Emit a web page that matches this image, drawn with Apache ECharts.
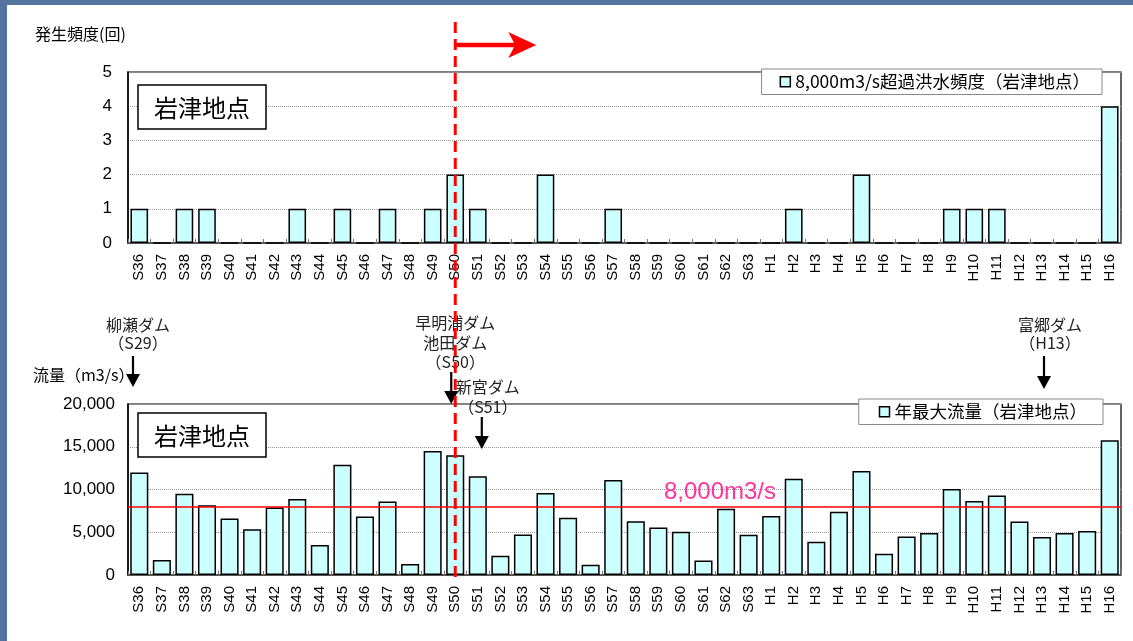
<!DOCTYPE html>
<html>
<head>
<meta charset="utf-8">
<script src="https://cdn.jsdelivr.net/npm/echarts@6/dist/echarts.min.js"></script>
<style>
  body { margin: 0; background: #52749e; }
  #panel { position: absolute; left: 7px; top: 5px; width: 1126px; height: 636px; background: #fff; }
  #main { position: absolute; left: 0; top: 0; width: 1133px; height: 641px; }
</style>
</head>
<body>
<div id="panel"></div>
<div id="main"></div>
<script>
// 年 (昭和 S36 ～ 平成 H16)
const years = ['S36', 'S37', 'S38', 'S39', 'S40', 'S41', 'S42', 'S43', 'S44', 'S45',
  'S46', 'S47', 'S48', 'S49', 'S50', 'S51', 'S52', 'S53', 'S54', 'S55',
  'S56', 'S57', 'S58', 'S59', 'S60', 'S61', 'S62', 'S63',
  'H1', 'H2', 'H3', 'H4', 'H5', 'H6', 'H7', 'H8', 'H9', 'H10',
  'H11', 'H12', 'H13', 'H14', 'H15', 'H16'];

// 8,000m3/s超過洪水頻度 (回)
const exceedCount = [1, 0, 1, 1, 0, 0, 0, 1, 0, 1,
  0, 1, 0, 1, 2, 1, 0, 0, 2, 0,
  0, 1, 0, 0, 0, 0, 0, 0,
  0, 1, 0, 0, 2, 0, 0, 0, 1, 1,
  1, 0, 0, 0, 0, 4];

// 年最大流量 (m3/s)
const peakFlow = [12000, 1750, 9500, 8150, 6600, 5350, 7900, 8900, 3500, 12900,
  6850, 8600, 1300, 14500, 14000, 11550, 2250, 4750, 9600, 6700,
  1200, 11100, 6300, 5550, 5050, 1700, 7750, 4700,
  6900, 11250, 3900, 7400, 12150, 2500, 4500, 4900, 10050, 8650,
  9300, 6250, 4450, 4900, 5150, 15750];

const countTicks = [0, 1, 2, 3, 4, 5];
const flowTicks = [0, 5000, 10000, 15000, 20000];
const threshold = 8000;

// ダム (年, 名前)
const dams = [
  { year: 'S29', lines: ['柳瀬ダム', '（S29）'] },
  { year: 'S50', lines: ['早明浦ダム', '池田ダム', '（S50）'] },
  { year: 'S51', lines: ['新宮ダム', '（S51）'] },
  { year: 'H13', lines: ['富郷ダム', '（H13）'] }
];

const FONT = "'Liberation Sans', 'Noto Sans CJK JP', sans-serif";
const JFONT = "'Noto Sans CJK JP', sans-serif";

const chart = echarts.init(document.getElementById('main'), null, { renderer: 'canvas' });

function xAxisFor(gridIndex) {
  return {
    type: 'category',
    gridIndex: gridIndex,
    data: years,
    axisLine: { lineStyle: { color: '#444', width: 1.5 } },
    axisTick: { show: true, inside: true, length: 4, interval: 0, lineStyle: { color: '#777' } },
    axisLabel: { interval: 0, rotate: 90, fontSize: 15, color: '#000', margin: 11, fontFamily: FONT }
  };
}

function yAxisFor(gridIndex, ticks, fmt, margin) {
  return {
    type: 'value',
    gridIndex: gridIndex,
    min: ticks[0],
    max: ticks[ticks.length - 1],
    interval: ticks[1] - ticks[0],
    axisLine: { show: true, lineStyle: { color: '#000', width: 1.5 } },
    axisTick: { show: false },
    axisLabel: { fontSize: 17, color: '#000', margin: margin, fontFamily: FONT, formatter: fmt },
    splitLine: { lineStyle: { color: '#999', type: 'dotted' } }
  };
}

const barStyle = { color: '#ccffff', borderColor: '#000', borderWidth: 1.5 };

const option = {
  animation: false,
  grid: [
    { left: 128, top: 72, right: 12, height: 171, show: true, borderColor: '#000', borderWidth: 1.2, backgroundColor: 'transparent' },
    { left: 128, top: 404, right: 12, height: 171, show: true, borderColor: '#000', borderWidth: 1.2, backgroundColor: 'transparent' }
  ],
  legend: [
    {
      data: ['8,000m3/s超過洪水頻度（岩津地点）'],
      right: 31, top: 69,
      padding: [4, 12, 4, 18],
      backgroundColor: '#fff', borderColor: '#888', borderWidth: 1,
      icon: 'rect', itemWidth: 10, itemHeight: 10, itemGap: 6,
      itemStyle: { borderColor: '#000', borderWidth: 1.5 },
      textStyle: { fontSize: 17.5, color: '#000', fontFamily: JFONT }
    },
    {
      data: ['年最大流量（岩津地点）'],
      right: 30, top: 399,
      padding: [4, 16, 4, 20],
      backgroundColor: '#fff', borderColor: '#888', borderWidth: 1,
      icon: 'rect', itemWidth: 10, itemHeight: 10, itemGap: 6,
      itemStyle: { borderColor: '#000', borderWidth: 1.5 },
      textStyle: { fontSize: 17.5, color: '#000', fontFamily: JFONT }
    }
  ],
  xAxis: [xAxisFor(0), xAxisFor(1)],
  yAxis: [
    yAxisFor(0, countTicks, '{value}', 16),
    yAxisFor(1, flowTicks, v => v.toLocaleString('en-US'), 13)
  ],
  series: [
    {
      name: '8,000m3/s超過洪水頻度（岩津地点）',
      type: 'bar',
      xAxisIndex: 0, yAxisIndex: 0,
      barWidth: '78%',
      itemStyle: barStyle,
      data: exceedCount
    },
    {
      name: '年最大流量（岩津地点）',
      type: 'bar',
      xAxisIndex: 1, yAxisIndex: 1,
      barWidth: '80%',
      itemStyle: barStyle,
      data: peakFlow,
      markLine: {
        silent: true,
        symbol: 'none',
        label: { show: false },
        lineStyle: { color: '#ff0000', width: 1.5, type: 'solid' },
        data: [{ yAxis: threshold }]
      }
    }
  ]
};

chart.setOption(option);

// 注記 (位置は軸から求める)
const px = (name) => chart.convertToPixel({ xAxisIndex: 1 }, name);
const catW = px(years[1]) - px(years[0]);
const x50 = px('S50');

function downArrow(x, y1, y2) {
  return [
    { type: 'line', shape: { x1: x, y1: y1, x2: x, y2: y2 - 8 }, style: { stroke: '#000', lineWidth: 2.2 } },
    { type: 'polygon', shape: { points: [[x - 7, y2 - 13], [x + 7, y2 - 13], [x, y2]] }, style: { fill: '#000' } }
  ];
}

function textLines(cx, y0, lines, step) {
  return lines.map((t, i) => ({
    type: 'text',
    style: { text: t, x: cx, y: y0 + i * step, align: 'center', verticalAlign: 'middle', fontSize: 16, fill: '#222', fontFamily: JFONT }
  }));
}

function labelBox(x, y) {
  return [
    { type: 'rect', shape: { x: x, y: y, width: 128, height: 44 }, style: { fill: '#fff', stroke: '#000', lineWidth: 1.5 } },
    { type: 'text', style: { text: '岩津地点', x: x + 64, y: y + 23, align: 'center', verticalAlign: 'middle', fontSize: 24, fill: '#000', fontFamily: JFONT } }
  ];
}

const xS29 = px('S36') - catW * 0.5 + 5;
const xS51 = px('S51') + 4;
const xH13 = px('H13') + 2;

let g = [];
g.push({ type: 'text', style: { text: '発生頻度(回)', x: 35, y: 34, verticalAlign: 'middle', fontSize: 16, fill: '#000', fontFamily: JFONT } });
g.push({ type: 'text', style: { text: '流量（m3/s）', x: 33, y: 375, verticalAlign: 'middle', fontSize: 16, fill: '#000', fontFamily: JFONT } });
g = g.concat(labelBox(138, 85), labelBox(138, 413));

// ダム注記
g = g.concat(textLines(xS29 + 5, 325, dams[0].lines, 18), downArrow(xS29, 356, 387));
g = g.concat(textLines(x50, 323, dams[1].lines, 19.5), downArrow(x50 - 4, 372, 404));
g = g.concat(textLines(xS51 + 6, 387, dams[2].lines, 20), downArrow(xS51, 417, 449));
g = g.concat(textLines(xH13 + 6, 325, dams[3].lines, 18), downArrow(xH13, 356, 389));

g.push({ type: 'text', style: { text: '8,000m3/s', x: 720, y: 492, align: 'center', verticalAlign: 'middle', fontSize: 24, fill: '#ff3399', fontFamily: FONT } });

// 区切り線 (S50) と矢印
g.push({ type: 'line', shape: { x1: x50, y1: 22, x2: x50, y2: 577 }, style: { stroke: '#ff0000', lineWidth: 3, lineDash: [11, 6] }, z: 100 });
g.push({ type: 'line', shape: { x1: x50, y1: 45, x2: x50 + 64, y2: 45 }, style: { stroke: '#ff0000', lineWidth: 4.5 }, z: 100 });
g.push({ type: 'polygon', shape: { points: [[x50 + 53, 32], [x50 + 81, 45], [x50 + 53, 58], [x50 + 60, 45]] }, style: { fill: '#ff0000' }, z: 100 });

chart.setOption({ graphic: { elements: g } });
</script>
</body>
</html>
